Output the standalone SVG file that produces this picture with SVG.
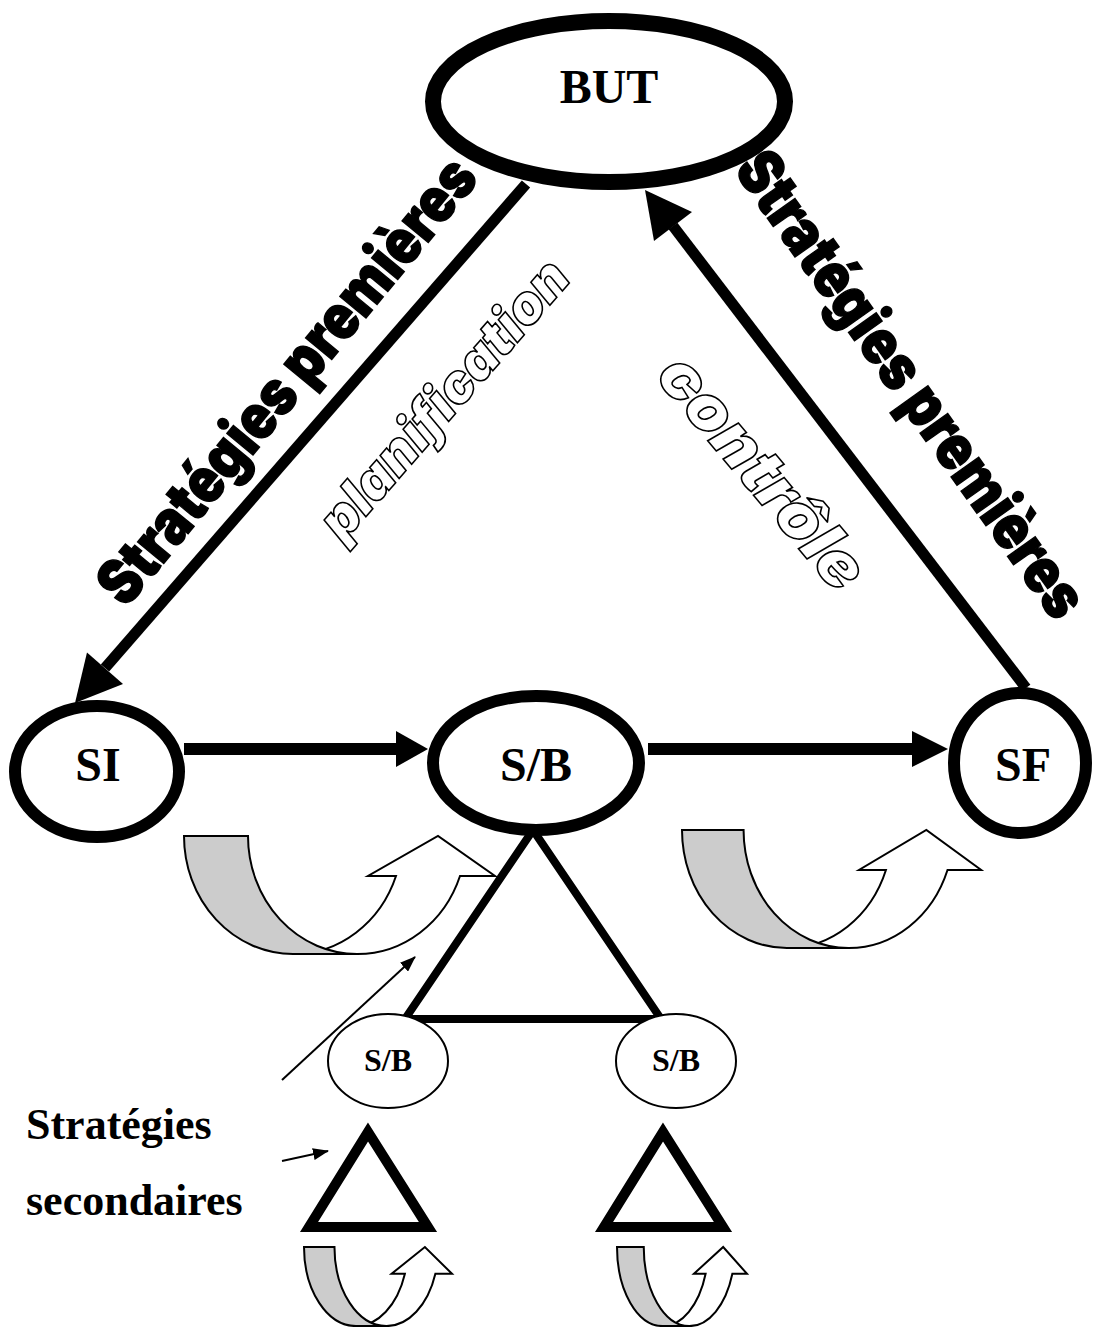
<svg xmlns="http://www.w3.org/2000/svg" width="1094" height="1327" viewBox="0 0 1094 1327">
  <style>
    .node { fill: #fff; stroke: #000; }
    .lbl { font-family: 'Liberation Serif', 'Times New Roman', serif; font-weight: bold; fill: #000; text-anchor: middle; }
    .big { font-family: Inter, Lato, Roboto, 'DejaVu Sans', sans-serif; font-weight: 900; font-size: 62px; fill: #000; stroke: #000; stroke-width: 1.5; }
    .hollow { font-family: Inter, Lato, Roboto, 'DejaVu Sans', sans-serif; font-weight: 900; font-style: italic; fill: #fff; stroke: #000; stroke-width: 1.6; text-anchor: middle; }
    .back { fill: #ccc; stroke: #000; stroke-width: 2; }
    .front { fill: #fff; stroke: #000; stroke-width: 2; }
    .thick { stroke: #000; fill: none; }
    .head { fill: #000; stroke: none; }
    .thin { stroke: #000; stroke-width: 2; fill: none; }
  </style>
  <defs>
    <marker id="tip" viewBox="0 0 16 12" refX="15" refY="6" markerWidth="16" markerHeight="12" markerUnits="userSpaceOnUse" orient="auto">
      <path d="M0,0 L16,6 L0,12 Z" fill="#000"/>
    </marker>
    <!-- U-turn block arrow: shaded back band, white front band with head -->
    <g id="uturn">
      <path class="front" vector-effect="non-scaling-stroke" d="M109,118 L173,118 A109,118 0 0,0 276,40 L311,40 L254,0 L184,40 L212,40 A109,118 0 0,1 109,118 Z"/>
      <path class="back" vector-effect="non-scaling-stroke" d="M0,0 A109,118 0 0,0 109,118 L173,118 A109,118 0 0,1 64,0 Z"/>
    </g>
  </defs>

  <rect width="1094" height="1327" fill="#fff"/>

  <!-- cycle arrows under the nodes -->
  <g id="cycles">
    <use href="#uturn" transform="translate(184,836)"/>
    <use href="#uturn" transform="translate(682,830) scale(0.962,1)"/>
    <use href="#uturn" transform="translate(304,1247) scale(0.476,0.67)"/>
    <use href="#uturn" transform="translate(617,1247) scale(0.418,0.67)"/>
  </g>

  <!-- connectors -->
  <g id="connectors">
    <line class="thick" stroke-width="11" x1="526" y1="184" x2="105" y2="668"/>
    <polygon class="head" points="75,703 87,652.5 123,684"/>
    <line class="thick" stroke-width="11" x1="1026" y1="688" x2="673" y2="226"/>
    <polygon class="head" points="645,190 692,212 654,241"/>
    <line class="thick" stroke-width="12" x1="184" y1="749" x2="398" y2="749"/>
    <polygon class="head" points="396,731 428,749 396,767"/>
    <line class="thick" stroke-width="12" x1="648" y1="749" x2="914" y2="749"/>
    <polygon class="head" points="912,731 948,749 912,767"/>
    <line class="thin" x1="282" y1="1080" x2="415" y2="957" marker-end="url(#tip)"/>
    <line class="thin" x1="282" y1="1161" x2="328" y2="1151" marker-end="url(#tip)"/>
  </g>

  <!-- strategy triangles -->
  <g id="tri-main"><polygon class="thick" stroke-width="8" stroke-linejoin="miter" points="533,830 405,1019 661,1019"/></g>
  <g id="tri-left"><polygon class="thick" stroke-width="10" points="368,1132 309,1227 428,1227"/></g>
  <g id="tri-right"><polygon class="thick" stroke-width="10" points="663,1132 604,1227 723,1227"/></g>

  <!-- nodes -->
  <g id="but">
    <ellipse class="node" stroke-width="16" cx="609" cy="101.5" rx="176" ry="80.5"/>
    <text class="lbl" x="609" y="103" font-size="48">BUT</text>
  </g>
  <g id="si">
    <ellipse class="node" stroke-width="12" cx="97" cy="771.5" rx="82" ry="65.5"/>
    <text class="lbl" x="98" y="781" font-size="48">SI</text>
  </g>
  <g id="sb">
    <ellipse class="node" stroke-width="12" cx="536" cy="763" rx="103" ry="67"/>
    <text class="lbl" x="536" y="781" font-size="48">S/B</text>
  </g>
  <g id="sf">
    <ellipse class="node" stroke-width="12" cx="1020" cy="763" rx="66" ry="70"/>
    <text class="lbl" x="1023" y="781" font-size="48">SF</text>
  </g>
  <g id="sb-left">
    <ellipse class="node" stroke-width="2" cx="388" cy="1061" rx="60" ry="47"/>
    <text class="lbl" x="388" y="1071" font-size="32">S/B</text>
  </g>
  <g id="sb-right">
    <ellipse class="node" stroke-width="2" cx="676" cy="1061" rx="60" ry="47"/>
    <text class="lbl" x="676" y="1071" font-size="32">S/B</text>
  </g>

  <!-- labels -->
  <g id="labels">
    <text class="big" transform="translate(126,609) rotate(-50.5)" textLength="557" lengthAdjust="spacingAndGlyphs">Stratégies premières</text>
    <text class="big" transform="translate(733,170) rotate(54.6)" textLength="556" lengthAdjust="spacingAndGlyphs">Stratégies premières</text>
    <text class="hollow" font-size="54" transform="translate(445,400) rotate(-49)" y="17" textLength="350" lengthAdjust="spacingAndGlyphs">planification</text>
    <text class="hollow" font-size="64" transform="translate(761,473) rotate(50)" y="20" textLength="285" lengthAdjust="spacingAndGlyphs">contrôle</text>
    <text class="lbl" x="26" y="1139" font-size="44" style="text-anchor:start">Stratégies</text>
    <text class="lbl" x="26" y="1215" font-size="44" style="text-anchor:start">secondaires</text>
  </g>
</svg>
